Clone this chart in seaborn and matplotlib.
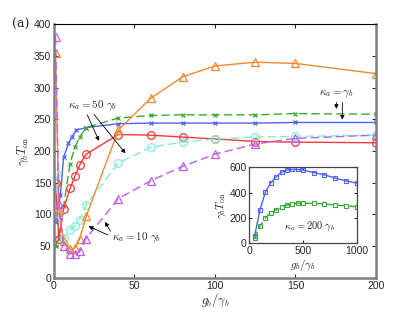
import numpy as np
import pandas as pd
import matplotlib
matplotlib.use("Agg")
import matplotlib.pyplot as plt
import seaborn as sns

# main panel data
x_blue = [1, 4, 6, 9, 11, 14, 20, 40, 60, 80, 100, 125, 150, 200]
y_blue = [88, 130, 190, 212, 222, 233, 237, 243, 244, 244, 244, 244, 245, 245]

x_common = [1, 3, 6, 10, 13, 16, 20, 40, 60, 80, 100, 125, 150, 200]
y_green = [51, 62, 113, 180, 206, 222, 237, 252, 256, 257, 257, 257, 259, 258]
y_red = [150, 62, 109, 141, 160, 178, 195, 226, 225, 222, 219, 215, 214, 213]
y_cyan = [165, 100, 63, 75, 82, 92, 115, 181, 206, 214, 219, 222, 223, 225]
y_orange = [355, 107, 58, 45, 47, 62, 97, 233, 283, 317, 334, 340, 338, 322]
y_purple = [380, 117, 50, 38, 37, 42, 62, 125, 153, 176, 195, 211, 220, 225]

# inset data (kappa_a = 200 gamma_b)
x_inset = [50, 100, 150, 200, 250, 300, 350, 400, 450, 500, 600, 700, 800, 900, 1000]
y_inset_blue = [60, 265, 405, 478, 525, 560, 578, 583, 583, 578, 558, 540, 515, 493, 475]
y_inset_green = [40, 137, 202, 242, 263, 289, 302, 308, 316, 316, 316, 310, 302, 296, 289]

sns.set_style("ticks")
plt.rcParams["font.family"] = ["Liberation Sans", "DejaVu Sans"]
plt.rcParams["mathtext.fontset"] = "cm"
plt.rcParams["xtick.direction"] = "in"
plt.rcParams["ytick.direction"] = "in"

fig = plt.figure(figsize=(4.15, 3.13), dpi=100)
ax = fig.add_axes([0.130, 0.112, 0.776, 0.811])

series = [
    (x_blue, y_blue, "#4f63f0", "-", "x", 3.5),
    (x_common, y_green, "#3aa935", (0, (6, 3)), "x", 3.5),
    (x_common, y_red, "#f23a3a", "-", "o", 5.5),
    (x_common, y_cyan, "#7ff0d2", (0, (6, 3)), "o", 5.5),
    (x_common, y_orange, "#ef8a2e", "-", "^", 6),
    (x_common, y_purple, "#c05cf2", (0, (6, 3)), "^", 6),
]
for xs, ys, col, ls, mk, ms in series:
    df = pd.DataFrame({"g": xs, "T": ys})
    sns.lineplot(data=df, x="g", y="T", ax=ax, color=col, linestyle=ls,
                 marker=mk, markersize=ms, markerfacecolor="none",
                 markeredgecolor=col, markeredgewidth=0.9, linewidth=1.0,
                 sort=False)

ax.set_xlim(0, 200)
ax.set_ylim(0, 400)
ax.set_xticks([0, 50, 100, 150, 200])
ax.set_yticks(np.arange(0, 401, 50))
ax.tick_params(labelsize=7.5, top=True, right=True, length=3, pad=2)
ax.set_xlabel(r"$g_b/\gamma_b$", fontsize=9, labelpad=1)
ax.set_ylabel(r"$\gamma_b T_{\rm on}$", fontsize=9, labelpad=2)
for side in ["left", "right", "bottom"]:
    ax.spines[side].set_color("#808080")
    ax.spines[side].set_linewidth(1.8)
ax.spines["top"].set_color("black")
ax.spines["top"].set_linewidth(0.8)

arrow = dict(arrowstyle="-|>", color="black", lw=0.6, mutation_scale=6)
ax.text(23.8, 273, r"$\kappa_a = 50\ \gamma_b$", fontsize=8, ha="center", va="center")
ax.annotate("", xy=(28.7, 212), xytext=(20, 261), arrowprops=arrow)
ax.annotate("", xy=(45.5, 193), xytext=(23.8, 261), arrowprops=arrow)

ax.text(36, 65, r"$\kappa_a = 10\ \gamma_b$", fontsize=8, ha="left", va="center")
ax.annotate("", xy=(20, 83), xytext=(35, 66), arrowprops=arrow)
ax.annotate("", xy=(30.8, 92), xytext=(36, 70), arrowprops=arrow)

ax.text(175.6, 291, r"$\kappa_a = \gamma_b$", fontsize=8, ha="center", va="center")
ax.annotate("", xy=(175.4, 262), xytext=(175.4, 281), arrowprops=arrow)
ax.annotate("", xy=(179.1, 245), xytext=(179.1, 281), arrowprops=arrow)

fig.text(0.03, 0.923, "(a)", fontsize=9, family="DejaVu Serif", va="center")

# inset
ins = fig.add_axes([249.3 / 415, 1 - 243.3 / 313, 107.4 / 415, 76 / 313])
for ys, col, ls in [(y_inset_blue, "#4f63f0", "-"), (y_inset_green, "#3aa935", (0, (5, 3)))]:
    df = pd.DataFrame({"g": x_inset, "T": ys})
    sns.lineplot(data=df, x="g", y="T", ax=ins, color=col, linestyle=ls,
                 marker="s", markersize=3, markerfacecolor="none",
                 markeredgecolor=col, markeredgewidth=0.8, linewidth=1.0,
                 sort=False)
ins.set_xlim(0, 1000)
ins.set_ylim(0, 600)
ins.set_xticks([0, 500, 1000])
ins.set_yticks([0, 200, 400, 600])
ins.tick_params(labelsize=7.5, top=True, right=True, length=2.5, pad=2)
ins.set_xlabel(r"$g_b/\gamma_b$", fontsize=8, labelpad=1)
ins.set_ylabel(r"$\gamma_b T_{\rm on}$", fontsize=8, labelpad=1)
for side in ins.spines:
    ins.spines[side].set_color("#444444")
    ins.spines[side].set_linewidth(0.9)
ins.text(565, 139, r"$\kappa_a = 200\ \gamma_b$", fontsize=7.5, ha="center", va="center")

fig.savefig("out.png", dpi=100)
